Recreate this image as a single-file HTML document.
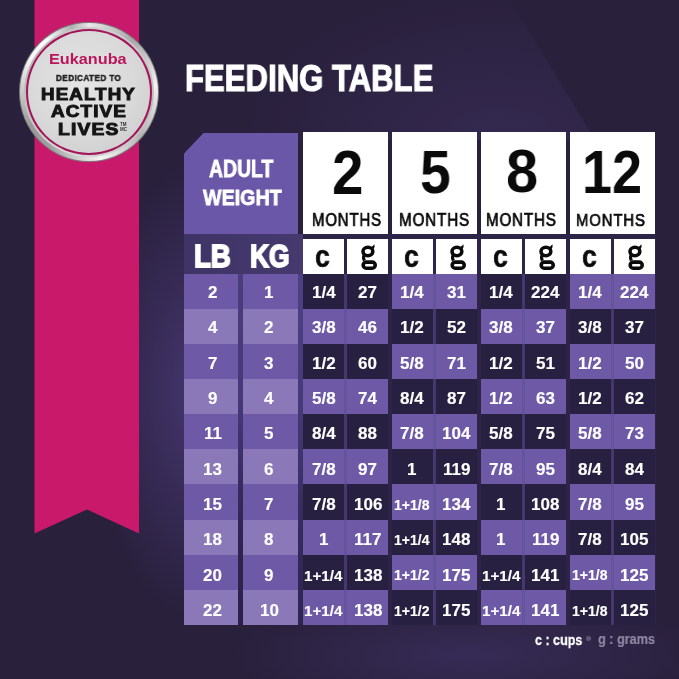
<!DOCTYPE html>
<html><head><meta charset="utf-8"><style>
html,body{margin:0;padding:0;}
body{width:679px;height:679px;overflow:hidden;position:relative;background:#29203c;font-family:"Liberation Sans",sans-serif;}
.a{position:absolute;}
.t{position:absolute;white-space:nowrap;line-height:1;transform-origin:0 0;will-change:transform;}
.cell{position:absolute;display:flex;align-items:center;justify-content:center;color:#fff;font-weight:bold;}
.cell span{display:inline-block;white-space:nowrap;line-height:1;will-change:transform;}
</style></head><body>

<div class="a" style="left:0;top:0;width:679px;height:679px;background:radial-gradient(ellipse 110px 230px at 200px 390px, rgba(78,62,128,0.75), rgba(78,62,128,0) 100%);"></div>
<div class="a" style="left:0;top:0;width:679px;height:679px;background:radial-gradient(ellipse 240px 60px at 470px 655px, rgba(72,58,118,0.45), rgba(72,58,118,0) 100%);"></div>
<div class="a" style="left:0;top:0;width:679px;height:140px;clip-path:polygon(250px 0,510px 0,595px 140px,250px 140px);background:radial-gradient(ellipse 260px 150px at 500px 140px, rgba(70,56,112,0.38), rgba(70,56,112,0) 100%);"></div>
<div class="a" style="left:184px;top:234px;width:472px;height:390px;background:#2d2448;"></div>
<div class="a" style="left:184px;top:234px;width:119px;height:40px;background:linear-gradient(90deg,#3f3466,#45396e);"></div>
<div class="a" style="left:236px;top:274px;width:10px;height:350px;background:linear-gradient(180deg,#4a3d7a 0%,#45397a 35%,#2e2550 75%,#2a2248 100%);"></div>
<div class="a" style="left:296px;top:274px;width:9px;height:350px;background:linear-gradient(180deg,#4e4182 0%,#463a78 35%,#342a5c 75%,#2e2550 100%);"></div>
<svg class="a" style="left:0;top:0" width="679" height="679"><polygon points="34.5,0 139,0 139,533.5 87,509.5 34.5,533.5" fill="#c8196a"/></svg>
<div class="a" style="left:19px;top:22px;width:140px;height:140px;border-radius:50%;background:#7d7d80;"></div>
<div class="a" style="left:20px;top:23px;width:138px;height:138px;border-radius:50%;background:conic-gradient(from 0deg, #e8e8e8 0deg, #a9a9a9 40deg, #f2f2f2 85deg, #b5b5b5 130deg, #f4f4f4 170deg, #a0a0a0 215deg, #9a9a9a 240deg, #f6f6f6 300deg, #ffffff 320deg, #b0b0b0 345deg, #e8e8e8 360deg);"></div>
<div class="a" style="left:24px;top:27px;width:130px;height:130px;border-radius:50%;background:conic-gradient(from 20deg, #d0d0d0, #bdbdbd 90deg, #dadada 180deg, #b8b8b8 270deg, #d0d0d0 360deg);"></div>
<div class="a" style="left:26.2px;top:29.2px;width:125.6px;height:125.6px;border-radius:50%;background:#a3175a;"></div>
<div class="a" style="left:28px;top:31px;width:122px;height:122px;border-radius:50%;background:radial-gradient(circle at 45% 42%, #e4e4e4 0%, #dadada 50%, #c9c9c9 100%);"></div>
<div class="t" style="left:48.6px;top:52.5px;font-size:13.74px;font-weight:bold;font-family:'Liberation Sans';color:#b8175c;transform:scaleX(1.183);-webkit-text-stroke:0px #b8175c;letter-spacing:0px;">Eukanuba</div>
<div class="t" style="left:56.25px;top:73.0px;font-size:9.47px;font-weight:bold;font-family:'Liberation Sans';color:#222;transform:scaleX(0.8571);-webkit-text-stroke:0.5px #222;letter-spacing:0.5px;">DEDICATED TO</div>
<div class="t" style="left:41.05px;top:87.1px;font-size:16.71px;font-weight:bold;font-family:'Liberation Sans';color:#151515;transform:scaleX(1.1224);-webkit-text-stroke:1.0px #151515;letter-spacing:1.0px;">HEALTHY</div>
<div class="t" style="left:51.15px;top:104.35px;font-size:16.9px;font-weight:bold;font-family:'Liberation Sans';color:#151515;transform:scaleX(1.1179);-webkit-text-stroke:1.0px #151515;letter-spacing:1.0px;">ACTIVE</div>
<div class="t" style="left:58.25px;top:121.25px;font-size:16.08px;font-weight:bold;font-family:'Liberation Sans';color:#151515;transform:scaleX(1.196);-webkit-text-stroke:1.0px #151515;letter-spacing:1.0px;">LIVES</div>
<div class="t" style="left:119.5px;top:122.5px;font-size:4.5px;font-weight:bold;color:#333;line-height:4.5px">TM<br>MC</div>
<div class="t" style="left:184.5px;top:60.0px;font-size:37.85px;font-weight:bold;font-family:'Liberation Sans';color:#fff;transform:scaleX(0.8227);-webkit-text-stroke:1.2px #fff;letter-spacing:0px;">FEEDING TABLE</div>
<div class="a" style="left:184px;top:132.5px;width:114px;height:101.5px;background:#6b57a7;clip-path:polygon(20px 0,100% 0,100% 100%,0 100%,0 21px);"></div>
<div class="t" style="left:209.1px;top:158.35px;font-size:23.12px;font-weight:bold;font-family:'Liberation Sans';color:#fff;transform:scaleX(0.8391);-webkit-text-stroke:0.8px #fff;letter-spacing:0px;">ADULT</div>
<div class="t" style="left:202.6px;top:186.35px;font-size:22.68px;font-weight:bold;font-family:'Liberation Sans';color:#fff;transform:scaleX(0.8679);-webkit-text-stroke:0.8px #fff;letter-spacing:0px;">WEIGHT</div>
<div class="t" style="left:194.1px;top:240.4px;font-size:32.06px;font-weight:bold;font-family:'Liberation Sans';color:#fff;transform:scaleX(0.8634);-webkit-text-stroke:1.8px #fff;letter-spacing:0px;">LB</div>
<div class="t" style="left:249.6px;top:241.15px;font-size:31.1px;font-weight:bold;font-family:'Liberation Sans';color:#fff;transform:scaleX(0.8452);-webkit-text-stroke:1.8px #fff;letter-spacing:0px;">KG</div>
<div class="a" style="left:302.8px;top:132.2px;width:85.7px;height:101.8px;background:#fff;"></div>
<div class="a" style="left:302.8px;top:238.5px;width:41.2px;height:35.7px;background:#fff;"></div>
<div class="a" style="left:347.1px;top:238.5px;width:41.400000000000006px;height:35.7px;background:#fff;"></div>
<div class="a" style="left:391.5px;top:132.2px;width:85.7px;height:101.8px;background:#fff;"></div>
<div class="a" style="left:391.5px;top:238.5px;width:41.2px;height:35.7px;background:#fff;"></div>
<div class="a" style="left:435.8px;top:238.5px;width:41.400000000000006px;height:35.7px;background:#fff;"></div>
<div class="a" style="left:480.5px;top:132.2px;width:85.7px;height:101.8px;background:#fff;"></div>
<div class="a" style="left:480.5px;top:238.5px;width:41.2px;height:35.7px;background:#fff;"></div>
<div class="a" style="left:524.8px;top:238.5px;width:41.400000000000006px;height:35.7px;background:#fff;"></div>
<div class="a" style="left:569.5px;top:132.2px;width:85.7px;height:101.8px;background:#fff;"></div>
<div class="a" style="left:569.5px;top:238.5px;width:41.2px;height:35.7px;background:#fff;"></div>
<div class="a" style="left:613.8px;top:238.5px;width:41.400000000000006px;height:35.7px;background:#fff;"></div>
<div class="t" style="left:331.6px;top:141.5px;font-size:62.33px;font-weight:bold;font-family:'Liberation Sans';color:#0a0a0a;transform:scaleX(0.9067);-webkit-text-stroke:0px #0a0a0a;letter-spacing:0px;">2</div>
<div class="t" style="left:419.65px;top:141.25px;font-size:61.97px;font-weight:bold;font-family:'Liberation Sans';color:#0a0a0a;transform:scaleX(0.8911);-webkit-text-stroke:0px #0a0a0a;letter-spacing:0px;">5</div>
<div class="t" style="left:505.85px;top:141.25px;font-size:61.25px;font-weight:bold;font-family:'Liberation Sans';color:#0a0a0a;transform:scaleX(0.9421);-webkit-text-stroke:0px #0a0a0a;letter-spacing:0px;">8</div>
<div class="t" style="left:581.55px;top:141.1px;font-size:61.42px;font-weight:bold;font-family:'Liberation Sans';color:#0a0a0a;transform:scaleX(0.8774);-webkit-text-stroke:0px #0a0a0a;letter-spacing:0px;">12</div>
<div class="t" style="left:311.8px;top:212.25px;font-size:17.61px;font-weight:normal;font-family:'Liberation Sans';color:#0a0a0a;transform:scaleX(0.8502);-webkit-text-stroke:0.7px #0a0a0a;letter-spacing:1.0px;">MONTHS</div>
<div class="t" style="left:398.5px;top:212.25px;font-size:17.61px;font-weight:normal;font-family:'Liberation Sans';color:#0a0a0a;transform:scaleX(0.8639);-webkit-text-stroke:0.7px #0a0a0a;letter-spacing:1.0px;">MONTHS</div>
<div class="t" style="left:486.1px;top:212.25px;font-size:17.61px;font-weight:normal;font-family:'Liberation Sans';color:#0a0a0a;transform:scaleX(0.8602);-webkit-text-stroke:0.7px #0a0a0a;letter-spacing:1.0px;">MONTHS</div>
<div class="t" style="left:575.5px;top:212.05px;font-size:17.12px;font-weight:normal;font-family:'Liberation Sans';color:#0a0a0a;transform:scaleX(0.8707);-webkit-text-stroke:0.7px #0a0a0a;letter-spacing:1.0px;">MONTHS</div>
<div class="t" style="left:314.95px;top:240.55px;font-size:30.66px;font-weight:bold;color:#0a0a0a;transform:scaleX(0.8635);-webkit-text-stroke:0.6px #111">c</div>
<svg class="a" style="left:347.1px;top:238.5px" width="41" height="36" viewBox="0 0 41 36">
<ellipse cx="20.9" cy="12.5" rx="4.9" ry="4.2" fill="none" stroke="#0a0a0a" stroke-width="3.6"/>
<path d="M23.6 8.6 Q26 7.2 27.4 5.3 Q28.4 7.8 26.2 10.6 Z" fill="#0a0a0a"/>
<path d="M17.6 15.8 Q15.6 18.2 17.4 21.6" fill="none" stroke="#0a0a0a" stroke-width="3.2"/>
<rect x="16.2" y="23.1" width="12" height="6.1" rx="3" ry="3" fill="none" stroke="#0a0a0a" stroke-width="3.6"/>
</svg>
<div class="t" style="left:403.65000000000003px;top:240.55px;font-size:30.66px;font-weight:bold;color:#0a0a0a;transform:scaleX(0.8635);-webkit-text-stroke:0.6px #111">c</div>
<svg class="a" style="left:435.8px;top:238.5px" width="41" height="36" viewBox="0 0 41 36">
<ellipse cx="20.9" cy="12.5" rx="4.9" ry="4.2" fill="none" stroke="#0a0a0a" stroke-width="3.6"/>
<path d="M23.6 8.6 Q26 7.2 27.4 5.3 Q28.4 7.8 26.2 10.6 Z" fill="#0a0a0a"/>
<path d="M17.6 15.8 Q15.6 18.2 17.4 21.6" fill="none" stroke="#0a0a0a" stroke-width="3.2"/>
<rect x="16.2" y="23.1" width="12" height="6.1" rx="3" ry="3" fill="none" stroke="#0a0a0a" stroke-width="3.6"/>
</svg>
<div class="t" style="left:492.65000000000003px;top:240.55px;font-size:30.66px;font-weight:bold;color:#0a0a0a;transform:scaleX(0.8635);-webkit-text-stroke:0.6px #111">c</div>
<svg class="a" style="left:524.8px;top:238.5px" width="41" height="36" viewBox="0 0 41 36">
<ellipse cx="20.9" cy="12.5" rx="4.9" ry="4.2" fill="none" stroke="#0a0a0a" stroke-width="3.6"/>
<path d="M23.6 8.6 Q26 7.2 27.4 5.3 Q28.4 7.8 26.2 10.6 Z" fill="#0a0a0a"/>
<path d="M17.6 15.8 Q15.6 18.2 17.4 21.6" fill="none" stroke="#0a0a0a" stroke-width="3.2"/>
<rect x="16.2" y="23.1" width="12" height="6.1" rx="3" ry="3" fill="none" stroke="#0a0a0a" stroke-width="3.6"/>
</svg>
<div class="t" style="left:581.6500000000001px;top:240.55px;font-size:30.66px;font-weight:bold;color:#0a0a0a;transform:scaleX(0.8635);-webkit-text-stroke:0.6px #111">c</div>
<svg class="a" style="left:613.8px;top:238.5px" width="41" height="36" viewBox="0 0 41 36">
<ellipse cx="20.9" cy="12.5" rx="4.9" ry="4.2" fill="none" stroke="#0a0a0a" stroke-width="3.6"/>
<path d="M23.6 8.6 Q26 7.2 27.4 5.3 Q28.4 7.8 26.2 10.6 Z" fill="#0a0a0a"/>
<path d="M17.6 15.8 Q15.6 18.2 17.4 21.6" fill="none" stroke="#0a0a0a" stroke-width="3.2"/>
<rect x="16.2" y="23.1" width="12" height="6.1" rx="3" ry="3" fill="none" stroke="#0a0a0a" stroke-width="3.6"/>
</svg>
<div class="a" style="left:184px;top:273.80px;width:54.4px;height:35.6px;background:#6d59a5;"></div>
<div class="a" style="left:243.2px;top:273.80px;width:55px;height:35.6px;background:#6d59a5;"></div>
<div class="cell" style="left:185.5px;top:275.10px;width:54.4px;height:35px;font-size:17px;"><span style="-webkit-text-stroke:0.15px #fff">2</span></div>
<div class="cell" style="left:241.7px;top:275.10px;width:55px;height:35px;font-size:17px;"><span style="-webkit-text-stroke:0.15px #fff">1</span></div>
<div class="a" style="left:302.8px;top:273.80px;width:41.2px;height:35.6px;background:#272040;"></div>
<div class="a" style="left:347.1px;top:273.80px;width:41.4px;height:35.6px;background:#272040;"></div>
<div class="a" style="left:344.0px;top:273.80px;width:3.1px;height:35.6px;background:#44386f;"></div>
<div class="cell" style="left:302.8px;top:275.10px;width:41.2px;height:35px;"><span style="font-size:17px;-webkit-text-stroke:0.15px #fff">1/4</span></div>
<div class="cell" style="left:347.1px;top:275.10px;width:41.4px;height:35px;"><span style="font-size:17px;-webkit-text-stroke:0.15px #fff">27</span></div>
<div class="a" style="left:391.5px;top:273.80px;width:41.2px;height:35.6px;background:#6d59a6;"></div>
<div class="a" style="left:435.8px;top:273.80px;width:41.4px;height:35.6px;background:#6d59a6;"></div>
<div class="a" style="left:432.7px;top:273.80px;width:3.1px;height:35.6px;background:#65549b;"></div>
<div class="cell" style="left:391.5px;top:275.10px;width:41.2px;height:35px;"><span style="font-size:17px;-webkit-text-stroke:0.15px #fff">1/4</span></div>
<div class="cell" style="left:435.8px;top:275.10px;width:41.4px;height:35px;"><span style="font-size:17px;-webkit-text-stroke:0.15px #fff">31</span></div>
<div class="a" style="left:480.5px;top:273.80px;width:41.2px;height:35.6px;background:#272040;"></div>
<div class="a" style="left:524.8px;top:273.80px;width:41.4px;height:35.6px;background:#272040;"></div>
<div class="a" style="left:521.7px;top:273.80px;width:3.1px;height:35.6px;background:#44386f;"></div>
<div class="cell" style="left:480.5px;top:275.10px;width:41.2px;height:35px;"><span style="font-size:17px;-webkit-text-stroke:0.15px #fff">1/4</span></div>
<div class="cell" style="left:524.8px;top:275.10px;width:41.4px;height:35px;"><span style="font-size:17px;-webkit-text-stroke:0.15px #fff">224</span></div>
<div class="a" style="left:569.5px;top:273.80px;width:41.2px;height:35.6px;background:#6d59a6;"></div>
<div class="a" style="left:613.8px;top:273.80px;width:41.4px;height:35.6px;background:#6d59a6;"></div>
<div class="a" style="left:610.7px;top:273.80px;width:3.1px;height:35.6px;background:#65549b;"></div>
<div class="cell" style="left:569.5px;top:275.10px;width:41.2px;height:35px;"><span style="font-size:17px;-webkit-text-stroke:0.15px #fff">1/4</span></div>
<div class="cell" style="left:613.8px;top:275.10px;width:41.4px;height:35px;"><span style="font-size:17px;-webkit-text-stroke:0.15px #fff">224</span></div>
<div class="a" style="left:184px;top:308.90px;width:54.4px;height:35.6px;background:#8a78b9;"></div>
<div class="a" style="left:243.2px;top:308.90px;width:55px;height:35.6px;background:#8a78b9;"></div>
<div class="cell" style="left:185.5px;top:310.44px;width:54.4px;height:35px;font-size:17px;"><span style="-webkit-text-stroke:0.15px #fff">4</span></div>
<div class="cell" style="left:241.7px;top:310.44px;width:55px;height:35px;font-size:17px;"><span style="-webkit-text-stroke:0.15px #fff">2</span></div>
<div class="a" style="left:302.8px;top:308.90px;width:41.2px;height:35.6px;background:#6d59a6;"></div>
<div class="a" style="left:347.1px;top:308.90px;width:41.4px;height:35.6px;background:#6d59a6;"></div>
<div class="a" style="left:344.0px;top:308.90px;width:3.1px;height:35.6px;background:#65549b;"></div>
<div class="cell" style="left:302.8px;top:310.44px;width:41.2px;height:35px;"><span style="font-size:17px;-webkit-text-stroke:0.15px #fff">3/8</span></div>
<div class="cell" style="left:347.1px;top:310.44px;width:41.4px;height:35px;"><span style="font-size:17px;-webkit-text-stroke:0.15px #fff">46</span></div>
<div class="a" style="left:391.5px;top:308.90px;width:41.2px;height:35.6px;background:#272040;"></div>
<div class="a" style="left:435.8px;top:308.90px;width:41.4px;height:35.6px;background:#272040;"></div>
<div class="a" style="left:432.7px;top:308.90px;width:3.1px;height:35.6px;background:#44386f;"></div>
<div class="cell" style="left:391.5px;top:310.44px;width:41.2px;height:35px;"><span style="font-size:17px;-webkit-text-stroke:0.15px #fff">1/2</span></div>
<div class="cell" style="left:435.8px;top:310.44px;width:41.4px;height:35px;"><span style="font-size:17px;-webkit-text-stroke:0.15px #fff">52</span></div>
<div class="a" style="left:480.5px;top:308.90px;width:41.2px;height:35.6px;background:#6d59a6;"></div>
<div class="a" style="left:524.8px;top:308.90px;width:41.4px;height:35.6px;background:#6d59a6;"></div>
<div class="a" style="left:521.7px;top:308.90px;width:3.1px;height:35.6px;background:#65549b;"></div>
<div class="cell" style="left:480.5px;top:310.44px;width:41.2px;height:35px;"><span style="font-size:17px;-webkit-text-stroke:0.15px #fff">3/8</span></div>
<div class="cell" style="left:524.8px;top:310.44px;width:41.4px;height:35px;"><span style="font-size:17px;-webkit-text-stroke:0.15px #fff">37</span></div>
<div class="a" style="left:569.5px;top:308.90px;width:41.2px;height:35.6px;background:#272040;"></div>
<div class="a" style="left:613.8px;top:308.90px;width:41.4px;height:35.6px;background:#272040;"></div>
<div class="a" style="left:610.7px;top:308.90px;width:3.1px;height:35.6px;background:#44386f;"></div>
<div class="cell" style="left:569.5px;top:310.44px;width:41.2px;height:35px;"><span style="font-size:17px;-webkit-text-stroke:0.15px #fff">3/8</span></div>
<div class="cell" style="left:613.8px;top:310.44px;width:41.4px;height:35px;"><span style="font-size:17px;-webkit-text-stroke:0.15px #fff">37</span></div>
<div class="a" style="left:184px;top:344.00px;width:54.4px;height:35.6px;background:#6d59a5;"></div>
<div class="a" style="left:243.2px;top:344.00px;width:55px;height:35.6px;background:#6d59a5;"></div>
<div class="cell" style="left:185.5px;top:345.78px;width:54.4px;height:35px;font-size:17px;"><span style="-webkit-text-stroke:0.15px #fff">7</span></div>
<div class="cell" style="left:241.7px;top:345.78px;width:55px;height:35px;font-size:17px;"><span style="-webkit-text-stroke:0.15px #fff">3</span></div>
<div class="a" style="left:302.8px;top:344.00px;width:41.2px;height:35.6px;background:#272040;"></div>
<div class="a" style="left:347.1px;top:344.00px;width:41.4px;height:35.6px;background:#272040;"></div>
<div class="a" style="left:344.0px;top:344.00px;width:3.1px;height:35.6px;background:#44386f;"></div>
<div class="cell" style="left:302.8px;top:345.78px;width:41.2px;height:35px;"><span style="font-size:17px;-webkit-text-stroke:0.15px #fff">1/2</span></div>
<div class="cell" style="left:347.1px;top:345.78px;width:41.4px;height:35px;"><span style="font-size:17px;-webkit-text-stroke:0.15px #fff">60</span></div>
<div class="a" style="left:391.5px;top:344.00px;width:41.2px;height:35.6px;background:#6d59a6;"></div>
<div class="a" style="left:435.8px;top:344.00px;width:41.4px;height:35.6px;background:#6d59a6;"></div>
<div class="a" style="left:432.7px;top:344.00px;width:3.1px;height:35.6px;background:#65549b;"></div>
<div class="cell" style="left:391.5px;top:345.78px;width:41.2px;height:35px;"><span style="font-size:17px;-webkit-text-stroke:0.15px #fff">5/8</span></div>
<div class="cell" style="left:435.8px;top:345.78px;width:41.4px;height:35px;"><span style="font-size:17px;-webkit-text-stroke:0.15px #fff">71</span></div>
<div class="a" style="left:480.5px;top:344.00px;width:41.2px;height:35.6px;background:#272040;"></div>
<div class="a" style="left:524.8px;top:344.00px;width:41.4px;height:35.6px;background:#272040;"></div>
<div class="a" style="left:521.7px;top:344.00px;width:3.1px;height:35.6px;background:#44386f;"></div>
<div class="cell" style="left:480.5px;top:345.78px;width:41.2px;height:35px;"><span style="font-size:17px;-webkit-text-stroke:0.15px #fff">1/2</span></div>
<div class="cell" style="left:524.8px;top:345.78px;width:41.4px;height:35px;"><span style="font-size:17px;-webkit-text-stroke:0.15px #fff">51</span></div>
<div class="a" style="left:569.5px;top:344.00px;width:41.2px;height:35.6px;background:#6d59a6;"></div>
<div class="a" style="left:613.8px;top:344.00px;width:41.4px;height:35.6px;background:#6d59a6;"></div>
<div class="a" style="left:610.7px;top:344.00px;width:3.1px;height:35.6px;background:#65549b;"></div>
<div class="cell" style="left:569.5px;top:345.78px;width:41.2px;height:35px;"><span style="font-size:17px;-webkit-text-stroke:0.15px #fff">1/2</span></div>
<div class="cell" style="left:613.8px;top:345.78px;width:41.4px;height:35px;"><span style="font-size:17px;-webkit-text-stroke:0.15px #fff">50</span></div>
<div class="a" style="left:184px;top:379.10px;width:54.4px;height:35.6px;background:#8a78b9;"></div>
<div class="a" style="left:243.2px;top:379.10px;width:55px;height:35.6px;background:#8a78b9;"></div>
<div class="cell" style="left:185.5px;top:381.12px;width:54.4px;height:35px;font-size:17px;"><span style="-webkit-text-stroke:0.15px #fff">9</span></div>
<div class="cell" style="left:241.7px;top:381.12px;width:55px;height:35px;font-size:17px;"><span style="-webkit-text-stroke:0.15px #fff">4</span></div>
<div class="a" style="left:302.8px;top:379.10px;width:41.2px;height:35.6px;background:#6d59a6;"></div>
<div class="a" style="left:347.1px;top:379.10px;width:41.4px;height:35.6px;background:#6d59a6;"></div>
<div class="a" style="left:344.0px;top:379.10px;width:3.1px;height:35.6px;background:#65549b;"></div>
<div class="cell" style="left:302.8px;top:381.12px;width:41.2px;height:35px;"><span style="font-size:17px;-webkit-text-stroke:0.15px #fff">5/8</span></div>
<div class="cell" style="left:347.1px;top:381.12px;width:41.4px;height:35px;"><span style="font-size:17px;-webkit-text-stroke:0.15px #fff">74</span></div>
<div class="a" style="left:391.5px;top:379.10px;width:41.2px;height:35.6px;background:#272040;"></div>
<div class="a" style="left:435.8px;top:379.10px;width:41.4px;height:35.6px;background:#272040;"></div>
<div class="a" style="left:432.7px;top:379.10px;width:3.1px;height:35.6px;background:#44386f;"></div>
<div class="cell" style="left:391.5px;top:381.12px;width:41.2px;height:35px;"><span style="font-size:17px;-webkit-text-stroke:0.15px #fff">8/4</span></div>
<div class="cell" style="left:435.8px;top:381.12px;width:41.4px;height:35px;"><span style="font-size:17px;-webkit-text-stroke:0.15px #fff">87</span></div>
<div class="a" style="left:480.5px;top:379.10px;width:41.2px;height:35.6px;background:#6d59a6;"></div>
<div class="a" style="left:524.8px;top:379.10px;width:41.4px;height:35.6px;background:#6d59a6;"></div>
<div class="a" style="left:521.7px;top:379.10px;width:3.1px;height:35.6px;background:#65549b;"></div>
<div class="cell" style="left:480.5px;top:381.12px;width:41.2px;height:35px;"><span style="font-size:17px;-webkit-text-stroke:0.15px #fff">1/2</span></div>
<div class="cell" style="left:524.8px;top:381.12px;width:41.4px;height:35px;"><span style="font-size:17px;-webkit-text-stroke:0.15px #fff">63</span></div>
<div class="a" style="left:569.5px;top:379.10px;width:41.2px;height:35.6px;background:#272040;"></div>
<div class="a" style="left:613.8px;top:379.10px;width:41.4px;height:35.6px;background:#272040;"></div>
<div class="a" style="left:610.7px;top:379.10px;width:3.1px;height:35.6px;background:#44386f;"></div>
<div class="cell" style="left:569.5px;top:381.12px;width:41.2px;height:35px;"><span style="font-size:17px;-webkit-text-stroke:0.15px #fff">1/2</span></div>
<div class="cell" style="left:613.8px;top:381.12px;width:41.4px;height:35px;"><span style="font-size:17px;-webkit-text-stroke:0.15px #fff">62</span></div>
<div class="a" style="left:184px;top:414.20px;width:54.4px;height:35.6px;background:#6d59a5;"></div>
<div class="a" style="left:243.2px;top:414.20px;width:55px;height:35.6px;background:#6d59a5;"></div>
<div class="cell" style="left:185.5px;top:416.46px;width:54.4px;height:35px;font-size:17px;"><span style="-webkit-text-stroke:0.15px #fff">11</span></div>
<div class="cell" style="left:241.7px;top:416.46px;width:55px;height:35px;font-size:17px;"><span style="-webkit-text-stroke:0.15px #fff">5</span></div>
<div class="a" style="left:302.8px;top:414.20px;width:41.2px;height:35.6px;background:#272040;"></div>
<div class="a" style="left:347.1px;top:414.20px;width:41.4px;height:35.6px;background:#272040;"></div>
<div class="a" style="left:344.0px;top:414.20px;width:3.1px;height:35.6px;background:#44386f;"></div>
<div class="cell" style="left:302.8px;top:416.46px;width:41.2px;height:35px;"><span style="font-size:17px;-webkit-text-stroke:0.15px #fff">8/4</span></div>
<div class="cell" style="left:347.1px;top:416.46px;width:41.4px;height:35px;"><span style="font-size:17px;-webkit-text-stroke:0.15px #fff">88</span></div>
<div class="a" style="left:391.5px;top:414.20px;width:41.2px;height:35.6px;background:#6d59a6;"></div>
<div class="a" style="left:435.8px;top:414.20px;width:41.4px;height:35.6px;background:#6d59a6;"></div>
<div class="a" style="left:432.7px;top:414.20px;width:3.1px;height:35.6px;background:#65549b;"></div>
<div class="cell" style="left:391.5px;top:416.46px;width:41.2px;height:35px;"><span style="font-size:17px;-webkit-text-stroke:0.15px #fff">7/8</span></div>
<div class="cell" style="left:435.8px;top:416.46px;width:41.4px;height:35px;"><span style="font-size:17px;-webkit-text-stroke:0.15px #fff">104</span></div>
<div class="a" style="left:480.5px;top:414.20px;width:41.2px;height:35.6px;background:#272040;"></div>
<div class="a" style="left:524.8px;top:414.20px;width:41.4px;height:35.6px;background:#272040;"></div>
<div class="a" style="left:521.7px;top:414.20px;width:3.1px;height:35.6px;background:#44386f;"></div>
<div class="cell" style="left:480.5px;top:416.46px;width:41.2px;height:35px;"><span style="font-size:17px;-webkit-text-stroke:0.15px #fff">5/8</span></div>
<div class="cell" style="left:524.8px;top:416.46px;width:41.4px;height:35px;"><span style="font-size:17px;-webkit-text-stroke:0.15px #fff">75</span></div>
<div class="a" style="left:569.5px;top:414.20px;width:41.2px;height:35.6px;background:#6d59a6;"></div>
<div class="a" style="left:613.8px;top:414.20px;width:41.4px;height:35.6px;background:#6d59a6;"></div>
<div class="a" style="left:610.7px;top:414.20px;width:3.1px;height:35.6px;background:#65549b;"></div>
<div class="cell" style="left:569.5px;top:416.46px;width:41.2px;height:35px;"><span style="font-size:17px;-webkit-text-stroke:0.15px #fff">5/8</span></div>
<div class="cell" style="left:613.8px;top:416.46px;width:41.4px;height:35px;"><span style="font-size:17px;-webkit-text-stroke:0.15px #fff">73</span></div>
<div class="a" style="left:184px;top:449.30px;width:54.4px;height:35.6px;background:#8a78b9;"></div>
<div class="a" style="left:243.2px;top:449.30px;width:55px;height:35.6px;background:#8a78b9;"></div>
<div class="cell" style="left:185.5px;top:451.80px;width:54.4px;height:35px;font-size:17px;"><span style="-webkit-text-stroke:0.15px #fff">13</span></div>
<div class="cell" style="left:241.7px;top:451.80px;width:55px;height:35px;font-size:17px;"><span style="-webkit-text-stroke:0.15px #fff">6</span></div>
<div class="a" style="left:302.8px;top:449.30px;width:41.2px;height:35.6px;background:#6d59a6;"></div>
<div class="a" style="left:347.1px;top:449.30px;width:41.4px;height:35.6px;background:#6d59a6;"></div>
<div class="a" style="left:344.0px;top:449.30px;width:3.1px;height:35.6px;background:#65549b;"></div>
<div class="cell" style="left:302.8px;top:451.80px;width:41.2px;height:35px;"><span style="font-size:17px;-webkit-text-stroke:0.15px #fff">7/8</span></div>
<div class="cell" style="left:347.1px;top:451.80px;width:41.4px;height:35px;"><span style="font-size:17px;-webkit-text-stroke:0.15px #fff">97</span></div>
<div class="a" style="left:391.5px;top:449.30px;width:41.2px;height:35.6px;background:#272040;"></div>
<div class="a" style="left:435.8px;top:449.30px;width:41.4px;height:35.6px;background:#272040;"></div>
<div class="a" style="left:432.7px;top:449.30px;width:3.1px;height:35.6px;background:#44386f;"></div>
<div class="cell" style="left:391.5px;top:451.80px;width:41.2px;height:35px;"><span style="font-size:17px;-webkit-text-stroke:0.15px #fff">1</span></div>
<div class="cell" style="left:435.8px;top:451.80px;width:41.4px;height:35px;"><span style="font-size:17px;-webkit-text-stroke:0.15px #fff">119</span></div>
<div class="a" style="left:480.5px;top:449.30px;width:41.2px;height:35.6px;background:#6d59a6;"></div>
<div class="a" style="left:524.8px;top:449.30px;width:41.4px;height:35.6px;background:#6d59a6;"></div>
<div class="a" style="left:521.7px;top:449.30px;width:3.1px;height:35.6px;background:#65549b;"></div>
<div class="cell" style="left:480.5px;top:451.80px;width:41.2px;height:35px;"><span style="font-size:17px;-webkit-text-stroke:0.15px #fff">7/8</span></div>
<div class="cell" style="left:524.8px;top:451.80px;width:41.4px;height:35px;"><span style="font-size:17px;-webkit-text-stroke:0.15px #fff">95</span></div>
<div class="a" style="left:569.5px;top:449.30px;width:41.2px;height:35.6px;background:#272040;"></div>
<div class="a" style="left:613.8px;top:449.30px;width:41.4px;height:35.6px;background:#272040;"></div>
<div class="a" style="left:610.7px;top:449.30px;width:3.1px;height:35.6px;background:#44386f;"></div>
<div class="cell" style="left:569.5px;top:451.80px;width:41.2px;height:35px;"><span style="font-size:17px;-webkit-text-stroke:0.15px #fff">8/4</span></div>
<div class="cell" style="left:613.8px;top:451.80px;width:41.4px;height:35px;"><span style="font-size:17px;-webkit-text-stroke:0.15px #fff">84</span></div>
<div class="a" style="left:184px;top:484.40px;width:54.4px;height:35.6px;background:#6d59a5;"></div>
<div class="a" style="left:243.2px;top:484.40px;width:55px;height:35.6px;background:#6d59a5;"></div>
<div class="cell" style="left:185.5px;top:487.14px;width:54.4px;height:35px;font-size:17px;"><span style="-webkit-text-stroke:0.15px #fff">15</span></div>
<div class="cell" style="left:241.7px;top:487.14px;width:55px;height:35px;font-size:17px;"><span style="-webkit-text-stroke:0.15px #fff">7</span></div>
<div class="a" style="left:302.8px;top:484.40px;width:41.2px;height:35.6px;background:#272040;"></div>
<div class="a" style="left:347.1px;top:484.40px;width:41.4px;height:35.6px;background:#272040;"></div>
<div class="a" style="left:344.0px;top:484.40px;width:3.1px;height:35.6px;background:#44386f;"></div>
<div class="cell" style="left:302.8px;top:487.14px;width:41.2px;height:35px;"><span style="font-size:17px;-webkit-text-stroke:0.15px #fff">7/8</span></div>
<div class="cell" style="left:347.1px;top:487.14px;width:41.4px;height:35px;"><span style="font-size:17px;-webkit-text-stroke:0.15px #fff">106</span></div>
<div class="a" style="left:391.5px;top:484.40px;width:41.2px;height:35.6px;background:#6d59a6;"></div>
<div class="a" style="left:435.8px;top:484.40px;width:41.4px;height:35.6px;background:#6d59a6;"></div>
<div class="a" style="left:432.7px;top:484.40px;width:3.1px;height:35.6px;background:#65549b;"></div>
<div class="cell" style="left:391.5px;top:487.14px;width:41.2px;height:35px;"><span style="font-size:14px;;-webkit-text-stroke:0.15px #fff">1+1/8</span></div>
<div class="cell" style="left:435.8px;top:487.14px;width:41.4px;height:35px;"><span style="font-size:17px;-webkit-text-stroke:0.15px #fff">134</span></div>
<div class="a" style="left:480.5px;top:484.40px;width:41.2px;height:35.6px;background:#272040;"></div>
<div class="a" style="left:524.8px;top:484.40px;width:41.4px;height:35.6px;background:#272040;"></div>
<div class="a" style="left:521.7px;top:484.40px;width:3.1px;height:35.6px;background:#44386f;"></div>
<div class="cell" style="left:480.5px;top:487.14px;width:41.2px;height:35px;"><span style="font-size:17px;-webkit-text-stroke:0.15px #fff">1</span></div>
<div class="cell" style="left:524.8px;top:487.14px;width:41.4px;height:35px;"><span style="font-size:17px;-webkit-text-stroke:0.15px #fff">108</span></div>
<div class="a" style="left:569.5px;top:484.40px;width:41.2px;height:35.6px;background:#6d59a6;"></div>
<div class="a" style="left:613.8px;top:484.40px;width:41.4px;height:35.6px;background:#6d59a6;"></div>
<div class="a" style="left:610.7px;top:484.40px;width:3.1px;height:35.6px;background:#65549b;"></div>
<div class="cell" style="left:569.5px;top:487.14px;width:41.2px;height:35px;"><span style="font-size:17px;-webkit-text-stroke:0.15px #fff">7/8</span></div>
<div class="cell" style="left:613.8px;top:487.14px;width:41.4px;height:35px;"><span style="font-size:17px;-webkit-text-stroke:0.15px #fff">95</span></div>
<div class="a" style="left:184px;top:519.50px;width:54.4px;height:35.6px;background:#8a78b9;"></div>
<div class="a" style="left:243.2px;top:519.50px;width:55px;height:35.6px;background:#8a78b9;"></div>
<div class="cell" style="left:185.5px;top:522.48px;width:54.4px;height:35px;font-size:17px;"><span style="-webkit-text-stroke:0.15px #fff">18</span></div>
<div class="cell" style="left:241.7px;top:522.48px;width:55px;height:35px;font-size:17px;"><span style="-webkit-text-stroke:0.15px #fff">8</span></div>
<div class="a" style="left:302.8px;top:519.50px;width:41.2px;height:35.6px;background:#6d59a6;"></div>
<div class="a" style="left:347.1px;top:519.50px;width:41.4px;height:35.6px;background:#6d59a6;"></div>
<div class="a" style="left:344.0px;top:519.50px;width:3.1px;height:35.6px;background:#65549b;"></div>
<div class="cell" style="left:302.8px;top:522.48px;width:41.2px;height:35px;"><span style="font-size:17px;-webkit-text-stroke:0.15px #fff">1</span></div>
<div class="cell" style="left:347.1px;top:522.48px;width:41.4px;height:35px;"><span style="font-size:17px;-webkit-text-stroke:0.15px #fff">117</span></div>
<div class="a" style="left:391.5px;top:519.50px;width:41.2px;height:35.6px;background:#272040;"></div>
<div class="a" style="left:435.8px;top:519.50px;width:41.4px;height:35.6px;background:#272040;"></div>
<div class="a" style="left:432.7px;top:519.50px;width:3.1px;height:35.6px;background:#44386f;"></div>
<div class="cell" style="left:391.5px;top:522.48px;width:41.2px;height:35px;"><span style="font-size:14px;;-webkit-text-stroke:0.15px #fff">1+1/4</span></div>
<div class="cell" style="left:435.8px;top:522.48px;width:41.4px;height:35px;"><span style="font-size:17px;-webkit-text-stroke:0.15px #fff">148</span></div>
<div class="a" style="left:480.5px;top:519.50px;width:41.2px;height:35.6px;background:#6d59a6;"></div>
<div class="a" style="left:524.8px;top:519.50px;width:41.4px;height:35.6px;background:#6d59a6;"></div>
<div class="a" style="left:521.7px;top:519.50px;width:3.1px;height:35.6px;background:#65549b;"></div>
<div class="cell" style="left:480.5px;top:522.48px;width:41.2px;height:35px;"><span style="font-size:17px;-webkit-text-stroke:0.15px #fff">1</span></div>
<div class="cell" style="left:524.8px;top:522.48px;width:41.4px;height:35px;"><span style="font-size:17px;-webkit-text-stroke:0.15px #fff">119</span></div>
<div class="a" style="left:569.5px;top:519.50px;width:41.2px;height:35.6px;background:#272040;"></div>
<div class="a" style="left:613.8px;top:519.50px;width:41.4px;height:35.6px;background:#272040;"></div>
<div class="a" style="left:610.7px;top:519.50px;width:3.1px;height:35.6px;background:#44386f;"></div>
<div class="cell" style="left:569.5px;top:522.48px;width:41.2px;height:35px;"><span style="font-size:17px;-webkit-text-stroke:0.15px #fff">7/8</span></div>
<div class="cell" style="left:613.8px;top:522.48px;width:41.4px;height:35px;"><span style="font-size:17px;-webkit-text-stroke:0.15px #fff">105</span></div>
<div class="a" style="left:184px;top:554.60px;width:54.4px;height:35.6px;background:#6d59a5;"></div>
<div class="a" style="left:243.2px;top:554.60px;width:55px;height:35.6px;background:#6d59a5;"></div>
<div class="cell" style="left:185.5px;top:557.82px;width:54.4px;height:35px;font-size:17px;"><span style="-webkit-text-stroke:0.15px #fff">20</span></div>
<div class="cell" style="left:241.7px;top:557.82px;width:55px;height:35px;font-size:17px;"><span style="-webkit-text-stroke:0.15px #fff">9</span></div>
<div class="a" style="left:302.8px;top:554.60px;width:41.2px;height:35.6px;background:#272040;"></div>
<div class="a" style="left:347.1px;top:554.60px;width:41.4px;height:35.6px;background:#272040;"></div>
<div class="a" style="left:344.0px;top:554.60px;width:3.1px;height:35.6px;background:#44386f;"></div>
<div class="cell" style="left:302.8px;top:557.82px;width:41.2px;height:35px;"><span style="font-size:15.2px;;-webkit-text-stroke:0.15px #fff">1+1/4</span></div>
<div class="cell" style="left:347.1px;top:557.82px;width:41.4px;height:35px;"><span style="font-size:17px;-webkit-text-stroke:0.15px #fff">138</span></div>
<div class="a" style="left:391.5px;top:554.60px;width:41.2px;height:35.6px;background:#6d59a6;"></div>
<div class="a" style="left:435.8px;top:554.60px;width:41.4px;height:35.6px;background:#6d59a6;"></div>
<div class="a" style="left:432.7px;top:554.60px;width:3.1px;height:35.6px;background:#65549b;"></div>
<div class="cell" style="left:391.5px;top:557.82px;width:41.2px;height:35px;"><span style="font-size:14px;;-webkit-text-stroke:0.15px #fff">1+1/2</span></div>
<div class="cell" style="left:435.8px;top:557.82px;width:41.4px;height:35px;"><span style="font-size:17px;-webkit-text-stroke:0.15px #fff">175</span></div>
<div class="a" style="left:480.5px;top:554.60px;width:41.2px;height:35.6px;background:#272040;"></div>
<div class="a" style="left:524.8px;top:554.60px;width:41.4px;height:35.6px;background:#272040;"></div>
<div class="a" style="left:521.7px;top:554.60px;width:3.1px;height:35.6px;background:#44386f;"></div>
<div class="cell" style="left:480.5px;top:557.82px;width:41.2px;height:35px;"><span style="font-size:15.2px;;-webkit-text-stroke:0.15px #fff">1+1/4</span></div>
<div class="cell" style="left:524.8px;top:557.82px;width:41.4px;height:35px;"><span style="font-size:17px;-webkit-text-stroke:0.15px #fff">141</span></div>
<div class="a" style="left:569.5px;top:554.60px;width:41.2px;height:35.6px;background:#6d59a6;"></div>
<div class="a" style="left:613.8px;top:554.60px;width:41.4px;height:35.6px;background:#6d59a6;"></div>
<div class="a" style="left:610.7px;top:554.60px;width:3.1px;height:35.6px;background:#65549b;"></div>
<div class="cell" style="left:569.5px;top:557.82px;width:41.2px;height:35px;"><span style="font-size:14px;;-webkit-text-stroke:0.15px #fff">1+1/8</span></div>
<div class="cell" style="left:613.8px;top:557.82px;width:41.4px;height:35px;"><span style="font-size:17px;-webkit-text-stroke:0.15px #fff">125</span></div>
<div class="a" style="left:184px;top:589.70px;width:54.4px;height:35.2px;background:#8a78b9;"></div>
<div class="a" style="left:243.2px;top:589.70px;width:55px;height:35.2px;background:#8a78b9;"></div>
<div class="cell" style="left:185.5px;top:593.16px;width:54.4px;height:35px;font-size:17px;"><span style="-webkit-text-stroke:0.15px #fff">22</span></div>
<div class="cell" style="left:241.7px;top:593.16px;width:55px;height:35px;font-size:17px;"><span style="-webkit-text-stroke:0.15px #fff">10</span></div>
<div class="a" style="left:302.8px;top:589.70px;width:41.2px;height:35.2px;background:#6d59a6;"></div>
<div class="a" style="left:347.1px;top:589.70px;width:41.4px;height:35.2px;background:#6d59a6;"></div>
<div class="a" style="left:344.0px;top:589.70px;width:3.1px;height:35.2px;background:#65549b;"></div>
<div class="cell" style="left:302.8px;top:593.16px;width:41.2px;height:35px;"><span style="font-size:15.2px;;-webkit-text-stroke:0.15px #fff">1+1/4</span></div>
<div class="cell" style="left:347.1px;top:593.16px;width:41.4px;height:35px;"><span style="font-size:17px;-webkit-text-stroke:0.15px #fff">138</span></div>
<div class="a" style="left:391.5px;top:589.70px;width:41.2px;height:35.2px;background:#272040;"></div>
<div class="a" style="left:435.8px;top:589.70px;width:41.4px;height:35.2px;background:#272040;"></div>
<div class="a" style="left:432.7px;top:589.70px;width:3.1px;height:35.2px;background:#44386f;"></div>
<div class="cell" style="left:391.5px;top:593.16px;width:41.2px;height:35px;"><span style="font-size:14px;;-webkit-text-stroke:0.15px #fff">1+1/2</span></div>
<div class="cell" style="left:435.8px;top:593.16px;width:41.4px;height:35px;"><span style="font-size:17px;-webkit-text-stroke:0.15px #fff">175</span></div>
<div class="a" style="left:480.5px;top:589.70px;width:41.2px;height:35.2px;background:#6d59a6;"></div>
<div class="a" style="left:524.8px;top:589.70px;width:41.4px;height:35.2px;background:#6d59a6;"></div>
<div class="a" style="left:521.7px;top:589.70px;width:3.1px;height:35.2px;background:#65549b;"></div>
<div class="cell" style="left:480.5px;top:593.16px;width:41.2px;height:35px;"><span style="font-size:15.2px;;-webkit-text-stroke:0.15px #fff">1+1/4</span></div>
<div class="cell" style="left:524.8px;top:593.16px;width:41.4px;height:35px;"><span style="font-size:17px;-webkit-text-stroke:0.15px #fff">141</span></div>
<div class="a" style="left:569.5px;top:589.70px;width:41.2px;height:35.2px;background:#272040;"></div>
<div class="a" style="left:613.8px;top:589.70px;width:41.4px;height:35.2px;background:#272040;"></div>
<div class="a" style="left:610.7px;top:589.70px;width:3.1px;height:35.2px;background:#44386f;"></div>
<div class="cell" style="left:569.5px;top:593.16px;width:41.2px;height:35px;"><span style="font-size:14px;;-webkit-text-stroke:0.15px #fff">1+1/8</span></div>
<div class="cell" style="left:613.8px;top:593.16px;width:41.4px;height:35px;"><span style="font-size:17px;-webkit-text-stroke:0.15px #fff">125</span></div>
<div class="t" style="left:535.45px;top:631.7px;font-size:15.32px;font-weight:bold;font-family:'Liberation Sans';color:#fff;transform:scaleX(0.8176);-webkit-text-stroke:0.3px #fff;letter-spacing:0px;">c : cups</div>
<div class="t" style="left:598.3px;top:631.45px;font-size:15.29px;font-weight:bold;font-family:'Liberation Sans';color:#8e89a3;transform:scaleX(0.828);-webkit-text-stroke:0.2px #8e89a3;letter-spacing:0px;">g : grams</div>
<div class="a" style="left:586.3px;top:635.5px;width:5px;height:5px;border-radius:50%;background:#5d5775;"></div>
</body></html>
